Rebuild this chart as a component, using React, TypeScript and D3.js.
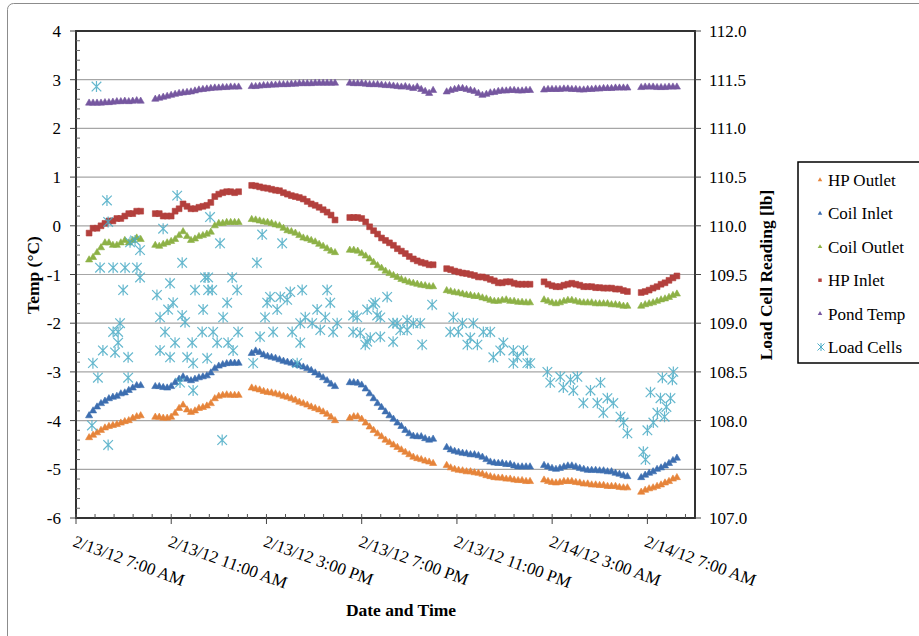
import React from 'react';
import * as d3 from 'd3';

// logger segments: start (hours after 2/13/12 7:00 AM), readings every 10 min
const segmentStartHours = [0.55, 3.33, 7.38, 11.5, 15.57, 19.66, 23.74];
const stepMinutes = 10;

const hpOutlet = [
  [-4.35, -4.3, -4.25, -4.2, -4.15, -4.12, -4.1, -4.08, -4.05, -4.02, -4.0, -3.95, -3.92, -3.9],
  [-3.93, -3.93, -3.95, -3.95, -3.93, -3.85, -3.75, -3.68, -3.78, -3.83, -3.8, -3.75, -3.73, -3.7, -3.65, -3.55, -3.5, -3.48, -3.47, -3.48, -3.48, -3.48],
  [-3.33, -3.35, -3.37, -3.4, -3.42, -3.43, -3.45, -3.47, -3.5, -3.52, -3.55, -3.58, -3.62, -3.65, -3.68, -3.72, -3.75, -3.78, -3.82, -3.87, -3.93, -4.0],
  [-3.95, -3.92, -3.92, -3.97, -4.05, -4.13, -4.2, -4.27, -4.33, -4.4, -4.45, -4.5, -4.55, -4.6, -4.65, -4.7, -4.75, -4.78, -4.8, -4.83, -4.85, -4.88],
  [-4.92, -4.97, -5.0, -5.02, -5.03, -5.05, -5.05, -5.07, -5.08, -5.1, -5.13, -5.15, -5.17, -5.18, -5.18, -5.2, -5.2, -5.22, -5.23, -5.23, -5.25, -5.25],
  [-5.22, -5.25, -5.27, -5.28, -5.27, -5.25, -5.25, -5.25, -5.27, -5.28, -5.3, -5.3, -5.32, -5.32, -5.33, -5.33, -5.35, -5.35, -5.35, -5.37, -5.38, -5.38],
  [-5.47, -5.43, -5.4, -5.38, -5.35, -5.32, -5.28, -5.25, -5.2, -5.17],
];

const coilInlet = [
  [-3.9, -3.8, -3.72, -3.65, -3.6, -3.55, -3.52, -3.5, -3.45, -3.43, -3.38, -3.33, -3.28, -3.28],
  [-3.3, -3.3, -3.32, -3.33, -3.3, -3.22, -3.15, -3.1, -3.15, -3.18, -3.15, -3.12, -3.1, -3.08, -3.02, -2.93, -2.88, -2.85, -2.83, -2.82, -2.82, -2.82],
  [-2.62, -2.57, -2.6, -2.65, -2.68, -2.7, -2.72, -2.75, -2.78, -2.8, -2.82, -2.85, -2.87, -2.9, -2.93, -2.97, -3.02, -3.07, -3.12, -3.18, -3.25, -3.3],
  [-3.22, -3.22, -3.23, -3.27, -3.35, -3.45, -3.55, -3.65, -3.73, -3.82, -3.9, -3.97, -4.05, -4.12, -4.2, -4.27, -4.32, -4.33, -4.33, -4.37, -4.4, -4.38],
  [-4.55, -4.6, -4.63, -4.65, -4.67, -4.68, -4.7, -4.7, -4.72, -4.75, -4.8, -4.85, -4.87, -4.88, -4.88, -4.9, -4.9, -4.93, -4.95, -4.95, -4.95, -4.95],
  [-4.92, -4.95, -4.98, -5.0, -4.98, -4.95, -4.93, -4.93, -4.95, -4.98, -5.0, -5.02, -5.02, -5.02, -5.03, -5.03, -5.05, -5.05, -5.08, -5.1, -5.13, -5.15],
  [-5.17, -5.12, -5.08, -5.05, -5.0, -4.97, -4.93, -4.88, -4.82, -4.77],
];

const coilOutlet = [
  [-0.7, -0.65, -0.55, -0.45, -0.35, -0.35, -0.4, -0.4, -0.35, -0.3, -0.35, -0.3, -0.25, -0.28],
  [-0.4, -0.42, -0.38, -0.35, -0.32, -0.28, -0.2, -0.12, -0.22, -0.3, -0.27, -0.22, -0.2, -0.17, -0.13, 0.0, 0.05, 0.05, 0.07, 0.07, 0.07, 0.07],
  [0.13, 0.12, 0.1, 0.08, 0.07, 0.05, 0.02, 0.0, -0.05, -0.1, -0.12, -0.15, -0.2, -0.25, -0.27, -0.3, -0.33, -0.38, -0.42, -0.47, -0.52, -0.55],
  [-0.5, -0.5, -0.52, -0.57, -0.62, -0.68, -0.75, -0.82, -0.87, -0.93, -0.98, -1.02, -1.06, -1.1, -1.13, -1.16, -1.18, -1.2, -1.22, -1.23, -1.25, -1.25],
  [-1.33, -1.35, -1.37, -1.38, -1.4, -1.42, -1.43, -1.45, -1.45, -1.48, -1.5, -1.53, -1.55, -1.55, -1.53, -1.52, -1.55, -1.55, -1.57, -1.57, -1.58, -1.58],
  [-1.52, -1.55, -1.58, -1.6, -1.58, -1.55, -1.53, -1.53, -1.55, -1.57, -1.58, -1.58, -1.58, -1.6, -1.6, -1.6, -1.6, -1.62, -1.62, -1.63, -1.65, -1.65],
  [-1.65, -1.62, -1.6, -1.58, -1.55, -1.52, -1.5, -1.47, -1.43, -1.4],
];

const hpInlet = [
  [-0.15, -0.05, -0.05, 0.0, 0.05, 0.1, 0.1, 0.15, 0.15, 0.2, 0.25, 0.25, 0.3, 0.3],
  [0.25, 0.25, 0.2, 0.2, 0.2, 0.3, 0.35, 0.45, 0.4, 0.35, 0.35, 0.38, 0.4, 0.42, 0.48, 0.6, 0.65, 0.68, 0.7, 0.7, 0.68, 0.7],
  [0.83, 0.82, 0.8, 0.78, 0.77, 0.75, 0.73, 0.72, 0.68, 0.65, 0.62, 0.6, 0.58, 0.55, 0.5, 0.45, 0.42, 0.38, 0.33, 0.28, 0.22, 0.12],
  [0.17, 0.17, 0.17, 0.15, 0.08, -0.02, -0.1, -0.17, -0.25, -0.3, -0.35, -0.4, -0.47, -0.52, -0.57, -0.63, -0.68, -0.72, -0.75, -0.77, -0.8, -0.8],
  [-0.88, -0.9, -0.93, -0.95, -0.97, -0.98, -1.0, -1.02, -1.05, -1.05, -1.07, -1.1, -1.13, -1.17, -1.17, -1.15, -1.15, -1.18, -1.2, -1.2, -1.2, -1.2],
  [-1.15, -1.2, -1.23, -1.25, -1.25, -1.22, -1.2, -1.18, -1.2, -1.22, -1.25, -1.25, -1.25, -1.27, -1.27, -1.28, -1.28, -1.28, -1.3, -1.3, -1.33, -1.35],
  [-1.37, -1.35, -1.32, -1.28, -1.25, -1.2, -1.17, -1.12, -1.07, -1.03],
];

const pondTemp = [
  [2.52, 2.52, 2.52, 2.52, 2.53, 2.53, 2.54, 2.55, 2.55, 2.56, 2.55, 2.56, 2.57, 2.56],
  [2.6, 2.62, 2.64, 2.66, 2.68, 2.7, 2.72, 2.73, 2.74, 2.75, 2.77, 2.79, 2.8, 2.81, 2.82, 2.83, 2.83, 2.84, 2.84, 2.85, 2.85, 2.85],
  [2.86, 2.86, 2.87, 2.88, 2.88, 2.89, 2.89, 2.9, 2.9, 2.9, 2.91, 2.91, 2.92, 2.92, 2.92, 2.92, 2.93, 2.93, 2.93, 2.93, 2.93, 2.93],
  [2.93, 2.92, 2.92, 2.92, 2.91, 2.9, 2.9, 2.9, 2.89, 2.88, 2.88, 2.87, 2.86, 2.85, 2.86, 2.84, 2.82, 2.85, 2.8, 2.76, 2.72, 2.78],
  [2.75, 2.78, 2.8, 2.82, 2.82, 2.8, 2.78, 2.76, 2.72, 2.68, 2.7, 2.73, 2.74, 2.76, 2.77, 2.77, 2.78, 2.78, 2.77, 2.77, 2.78, 2.78],
  [2.79, 2.8, 2.8, 2.8, 2.8, 2.81, 2.81, 2.8, 2.8, 2.79, 2.79, 2.8, 2.8, 2.81, 2.81, 2.82, 2.82, 2.82, 2.83, 2.83, 2.83, 2.83],
  [2.84, 2.85, 2.85, 2.85, 2.84, 2.84, 2.84, 2.85, 2.85, 2.85],
];

// load cells (secondary axis): hours after 7:00 AM and reading in lb
const loadHours = [
  0.86, 1.3, 1.35, 0.67, 0.71, 0.92, 1.01, 1.56, 2.06, 2.56, 2.69, 1.98, 1.56, 1.77, 1.85, 1.77, 1.13, 1.64, 2.19, 2.19, 1.35, 2.27, 2.48, 2.69,
  3.66, 4.25, 4.46, 3.95, 3.4, 5.0, 5.55, 5.55, 6.05, 5.63, 6.56, 6.77, 3.53, 4.08, 3.87, 4.46, 4.58, 3.74, 4.16, 4.88, 3.53, 3.95, 4.67, 4.92, 4.37, 4.92, 5.3, 5.76, 5.72, 5.34, 6.35, 6.18, 5.93, 6.39, 6.6, 5.51, 6.81, 5.42, 6.14,
  7.44, 7.82, 8.66, 7.6, 8.15, 8.58, 9.0, 9.5, 10.55, 8.03, 8.45, 8.87, 7.94, 9.63, 10.13, 10.68, 10.47, 9.92, 9.42, 10.97, 8.28, 9.08, 10.26, 10.8, 7.73, 9.42, 9.29,
  11.64, 12.23, 12.65, 13.07, 12.57, 11.94, 12.23, 12.78, 13.32, 13.49, 13.91, 14.46, 14.96, 14.54, 13.91, 12.48, 11.81, 12.78, 13.32, 14.17, 11.64, 12.36, 12.15, 13.62,
  15.85, 16.23, 16.69, 15.72, 16.06, 16.56, 17.11, 17.4, 16.44, 16.86, 17.95, 17.53, 18.37, 17.82, 18.54, 18.96, 18.37, 18.79, 19.08,
  19.8, 19.92, 20.34, 20.77, 21.06, 20.47, 20.89, 21.61, 22.03, 21.31, 21.9, 22.32, 22.57, 22.15, 22.87, 23.0, 23.16,
  23.83, 23.92, 24.0, 24.25, 24.13, 24.42, 24.63, 25.09, 24.55, 24.97, 24.8, 24.72, 25.05,
];
const loadLb = [
  111.43, 110.26, 110.04, 107.95, 108.59, 108.44, 109.57, 109.57, 109.57, 109.57, 109.47, 109.34, 108.91, 108.91, 109.0, 108.8, 108.72, 108.7, 108.65, 108.44, 107.75, 109.83, 109.85, 109.75,
  109.97, 110.31, 109.62, 109.41, 109.29, 109.34, 109.47, 109.34, 109.82, 110.09, 109.47, 109.34, 109.06, 109.21, 109.14, 109.08, 109.01, 108.91, 108.8, 108.8, 108.72, 108.65, 108.65, 108.59, 108.39, 108.31, 108.91, 108.91, 109.34, 109.14, 109.21, 109.06, 108.8, 108.8, 108.72, 108.64, 108.91, 109.47, 107.8,
  108.59, 109.91, 109.82, 109.62, 109.27, 109.27, 109.32, 109.34, 109.34, 109.21, 109.14, 109.24, 109.06, 109.06, 109.14, 109.21, 109.06, 109.0, 109.0, 109.0, 108.91, 108.91, 108.93, 108.91, 108.86, 108.8, 108.59,
  109.08, 109.14, 109.08, 109.27, 109.21, 108.9, 108.81, 108.86, 108.81, 109.0, 109.03, 109.0, 109.19, 108.78, 108.93, 109.19, 109.06, 109.06, 109.0, 109.0, 108.91, 108.85, 108.78, 108.93,
  109.06, 109.0, 109.0, 108.91, 108.91, 108.85, 108.91, 108.91, 108.78, 108.78, 108.8, 108.65, 108.59, 108.72, 108.65, 108.59, 108.72, 108.72, 108.59,
  108.5, 108.39, 108.45, 108.42, 108.45, 108.34, 108.31, 108.31, 108.39, 108.18, 108.18, 108.23, 108.18, 108.08, 108.04, 107.98, 107.87,
  107.68, 107.6, 107.9, 107.98, 108.29, 108.08, 108.44, 108.5, 108.23, 108.23, 108.14, 108.04, 108.42,
];

const xTickLabels = ['2/13/12 7:00 AM', '2/13/12 11:00 AM', '2/13/12 3:00 PM', '2/13/12 7:00 PM', '2/13/12 11:00 PM', '2/14/12 3:00 AM', '2/14/12 7:00 AM'];
const leftTicks = [4, 3, 2, 1, 0, -1, -2, -3, -4, -5, -6];
const rightTicks = [112, 111.5, 111, 110.5, 110, 109.5, 109, 108.5, 108, 107.5, 107];

const seriesNames = ['HP Outlet', 'Coil Inlet', 'Coil Outlet', 'HP Inlet', 'Pond Temp', 'Load Cells'];
const seriesColors = ['#E6843A', '#3D6EB0', '#8DB146', '#B3403D', '#7657A0', '#4BACC6'];

const FONT = '"Liberation Serif", "Times New Roman", serif';

const t0 = new Date(2012, 1, 13, 7, 0);
const at = (h: number) => new Date(t0.getTime() + h * 3600e3);

const x = d3.scaleTime().domain([t0, at(26)]).range([76, 695]);
const yL = d3.scaleLinear().domain([-6, 4]).range([518, 31]);
const yR = d3.scaleLinear().domain([107, 112]).range([518, 31]);

const triangle = d3.symbol(d3.symbolTriangle, 22)()!;
const square = d3.symbol(d3.symbolSquare, 34)()!;
const triangleSmall = d3.symbol(d3.symbolTriangle, 9)()!;
const squareSmall = d3.symbol(d3.symbolSquare, 12)()!;
const asterisk = 'M-4.8,-4.8L4.8,4.8M-4.8,4.8L4.8,-4.8M0,-5.5L0,5.5';
const asteriskSmall = 'M-3.5,-3.5L3.5,3.5M-3.5,3.5L3.5,-3.5M0,-4L0,4';

function toPoints(segs: number[][]) {
  return segs.flatMap((vals, si) =>
    vals.map((v, i) => ({ t: at(segmentStartHours[si] + (i * stepMinutes) / 60), v }))
  );
}

const tempSeries = [hpOutlet, coilInlet, coilOutlet, hpInlet, pondTemp];

export default function App() {
  const minorY = d3.range(-6, 4.001, 0.2).filter((v) => Math.abs(v - Math.round(v)) > 0.01);
  const minorX = d3.range(0, 26.01, 0.8).map(at);
  const majorX = xTickLabels.map((_, i) => at(i * 4));

  return (
    <svg
      width={919}
      height={636}
      style={{ position: 'absolute', left: 0, top: 0, background: '#fff' }}
      fontFamily={FONT}
    >
      <rect x={7.5} y={3.5} width={1000} height={1000} rx={6} fill="#fff" stroke="#8c8c8c" />

      {/* gridlines */}
      {leftTicks.slice(1, -1).map((v) => (
        <line key={v} x1={76} x2={695} y1={yL(v)} y2={yL(v)} stroke="#a6a6a6" strokeWidth={1.2} />
      ))}

      {/* series */}
      {tempSeries.map((segs, si) => (
        <g key={si} fill={seriesColors[si]} stroke={seriesColors[si]} strokeWidth={0.6}>
          {toPoints(segs).map((p, i) => (
            <path key={i} d={si === 3 ? square : triangle} transform={`translate(${x(p.t)},${yL(p.v)})`} />
          ))}
        </g>
      ))}
      <g stroke={seriesColors[5]} strokeWidth={1.2} fill="none" opacity={0.85}>
        {loadHours.map((h, i) => (
          <path key={i} d={asterisk} transform={`translate(${x(at(h))},${yR(loadLb[i])})`} />
        ))}
      </g>

      {/* plot frame */}
      <rect x={76} y={31} width={619} height={487} fill="none" stroke="#333" strokeWidth={2} />

      {/* left axis ticks */}
      {leftTicks.map((v) => (
        <g key={v}>
          <line x1={70} x2={76} y1={yL(v)} y2={yL(v)} stroke="#444" />
          <text x={61} y={yL(v) + 6} textAnchor="end" fontSize={17} fill="#000">
            {v}
          </text>
        </g>
      ))}
      {minorY.map((v, i) => (
        <line key={i} x1={76} x2={80} y1={yL(v)} y2={yL(v)} stroke="#666" />
      ))}

      {/* right axis ticks */}
      {rightTicks.map((v) => (
        <g key={v}>
          <line x1={695} x2={701} y1={yR(v)} y2={yR(v)} stroke="#444" />
          <text x={709} y={yR(v) + 6} fontSize={17} fill="#000">
            {d3.format('.1f')(v)}
          </text>
        </g>
      ))}

      {/* x axis ticks */}
      {minorX.map((t, i) => (
        <line key={i} x1={x(t)} x2={x(t)} y1={514} y2={518} stroke="#555" />
      ))}
      {majorX.map((t, i) => (
        <g key={i}>
          <line x1={x(t)} x2={x(t)} y1={518} y2={524} stroke="#444" />
          <text transform={`translate(${x(t) - 4},546) rotate(20)`} fontSize={17} fill="#000">
            {xTickLabels[i]}
          </text>
        </g>
      ))}

      {/* axis titles */}
      <text transform="translate(39,275) rotate(-90)" textAnchor="middle" fontSize={17.5} fontWeight="bold">
        Temp (°C)
      </text>
      <text transform="translate(772,275) rotate(-90)" textAnchor="middle" fontSize={17.5} fontWeight="bold">
        Load Cell Reading [lb]
      </text>
      <text x={401} y={616} textAnchor="middle" fontSize={17.5} fontWeight="bold">
        Date and Time
      </text>

      {/* legend */}
      <rect x={798} y={162} width={125} height={201} fill="#fff" stroke="#000" strokeWidth={1.5} />
      {seriesNames.map((name, i) => {
        const cy = 180 + i * 33.4;
        return (
          <g key={name}>
            {i === 5 ? (
              <path d={asteriskSmall} transform={`translate(821,${cy})`} stroke={seriesColors[5]} fill="none" />
            ) : (
              <path d={i === 3 ? squareSmall : triangleSmall} transform={`translate(820,${cy})`} fill={seriesColors[i]} />
            )}
            <text x={828} y={cy + 6} fontSize={17} fill="#000">
              {name}
            </text>
          </g>
        );
      })}
    </svg>
  );
}
